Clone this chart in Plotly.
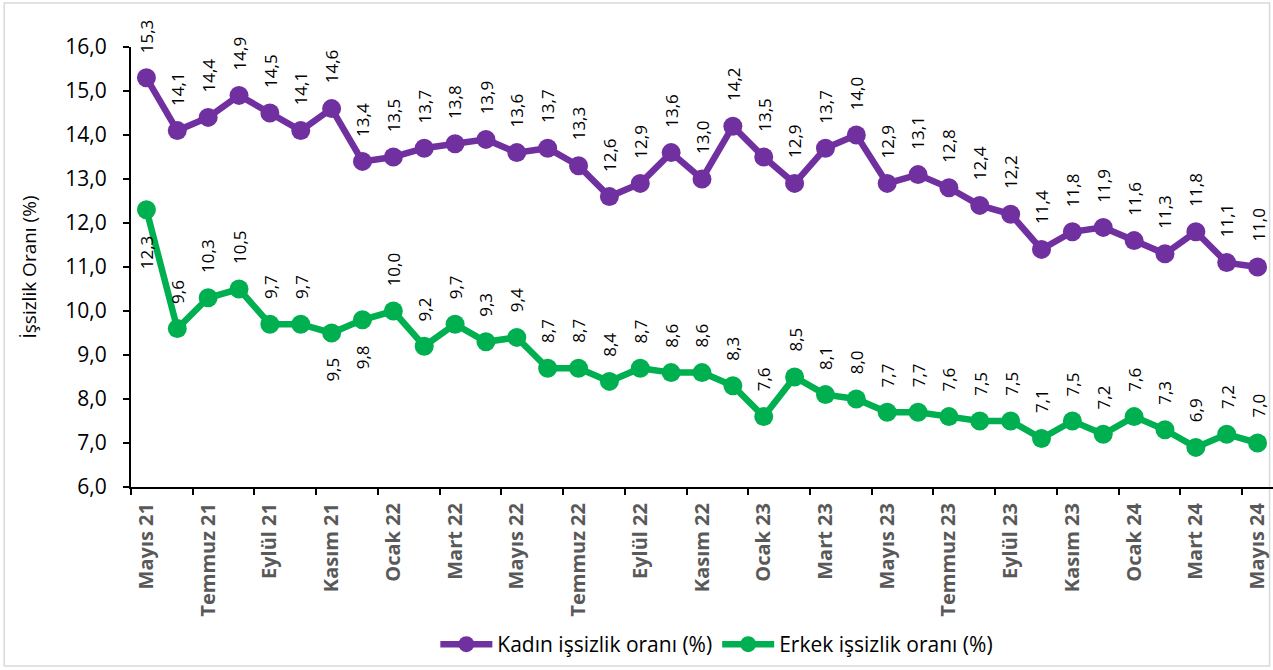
import plotly.graph_objects as go

months = ["Mayıs 21", "Haziran 21", "Temmuz 21", "Ağustos 21", "Eylül 21", "Ekim 21", "Kasım 21", "Aralık 21",
          "Ocak 22", "Şubat 22", "Mart 22", "Nisan 22", "Mayıs 22", "Haziran 22", "Temmuz 22", "Ağustos 22",
          "Eylül 22", "Ekim 22", "Kasım 22", "Aralık 22", "Ocak 23", "Şubat 23", "Mart 23", "Nisan 23",
          "Mayıs 23", "Haziran 23", "Temmuz 23", "Ağustos 23", "Eylül 23", "Ekim 23", "Kasım 23", "Aralık 23",
          "Ocak 24", "Şubat 24", "Mart 24", "Nisan 24", "Mayıs 24"]

kadin = [15.3, 14.1, 14.4, 14.9, 14.5, 14.1, 14.6, 13.4, 13.5, 13.7, 13.8, 13.9, 13.6, 13.7, 13.3, 12.6,
         12.9, 13.6, 13.0, 14.2, 13.5, 12.9, 13.7, 14.0, 12.9, 13.1, 12.8, 12.4, 12.2, 11.4, 11.8, 11.9,
         11.6, 11.3, 11.8, 11.1, 11.0]

erkek = [12.3, 9.6, 10.3, 10.5, 9.7, 9.7, 9.5, 9.8, 10.0, 9.2, 9.7, 9.3, 9.4, 8.7, 8.7, 8.4,
         8.7, 8.6, 8.6, 8.3, 7.6, 8.5, 8.1, 8.0, 7.7, 7.7, 7.6, 7.5, 7.5, 7.1, 7.5, 7.2,
         7.6, 7.3, 6.9, 7.2, 7.0]

erkek_below = [0, 6, 7]

PURPLE = "#7030A0"
GREEN = "#00B050"
FONT = "Open Sans"

x = list(range(len(months)))
tickvals = x[::2]
ticktext = months[::2]

fig = go.Figure()
fig.add_trace(go.Scatter(x=x, y=kadin, mode="lines+markers", name="Kadın işsizlik oranı (%)",
                         line=dict(color=PURPLE, width=6.5), marker=dict(color=PURPLE, size=19)))
fig.add_trace(go.Scatter(x=x, y=erkek, mode="lines+markers", name="Erkek işsizlik oranı (%)",
                         line=dict(color=GREEN, width=6.5), marker=dict(color=GREEN, size=19)))

def fmt(v):
    return f"{v:.1f}".replace(".", ",")

LBL = dict(family=FONT, size=17, color="#000000")
annotations = []
for i, v in enumerate(kadin):
    annotations.append(dict(x=i, y=v, xref="x", yref="y", text=fmt(v), textangle=-90, showarrow=False,
                            yanchor="bottom", xanchor="center", yshift=23, font=LBL))
for i, v in enumerate(erkek):
    below = i in erkek_below
    annotations.append(dict(x=i, y=v, xref="x", yref="y", text=fmt(v), textangle=-90, showarrow=False,
                            yanchor="top" if below else "bottom", xanchor="center",
                            yshift=-23 if below else 23, font=LBL))

fig.update_layout(
    width=1273, height=670,
    margin=dict(l=131, r=0, t=47, b=183),
    paper_bgcolor="white", plot_bgcolor="white",
    separators=",.",
    font=dict(family=FONT, size=16, color="#000000"),
    showlegend=True,
    legend=dict(orientation="h", x=0.513, xanchor="center", y=-0.358, yanchor="middle",
                font=dict(family=FONT, size=21, color="#000000"), itemwidth=52),
    annotations=annotations,
    shapes=[dict(type="rect", xref="paper", yref="paper", x0=-0.111, x1=0.997, y0=-0.407, y1=1.1,
                 line=dict(color="#D9D9D9", width=1.5), layer="below")],
)

fig.update_xaxes(
    range=[-0.5, len(months) - 0.5],
    tickmode="array", tickvals=tickvals, ticktext=ticktext, tickangle=-90,
    ticks="", showgrid=False, zeroline=False,
    showline=True, linecolor="#000000", linewidth=2,
    ticklabelstandoff=6,
    tickfont=dict(family=FONT, size=20, color="#595959", weight="bold"),
    minor=dict(tickmode="linear", tick0=-0.5, dtick=2, ticks="outside", ticklen=6, tickwidth=1.5,
               tickcolor="#000000", showgrid=False),
)
fig.update_yaxes(
    range=[6, 16], dtick=1, tick0=6, tickformat=".1f",
    ticks="outside", ticklen=6, tickwidth=1.5, tickcolor="#000000",
    showgrid=False, zeroline=False, showline=True, linecolor="#000000", linewidth=2,
    ticklabelstandoff=12,
    tickfont=dict(family=FONT, size=21, color="#000000"),
    title=dict(text="İşsizlik Oranı (%)", font=dict(family=FONT, size=19, color="#000000"), standoff=24),
)

fig.write_html("out.html", config={"displayModeBar": False},
               post_script="document.body.style.margin='0';document.body.style.overflow='hidden';")
